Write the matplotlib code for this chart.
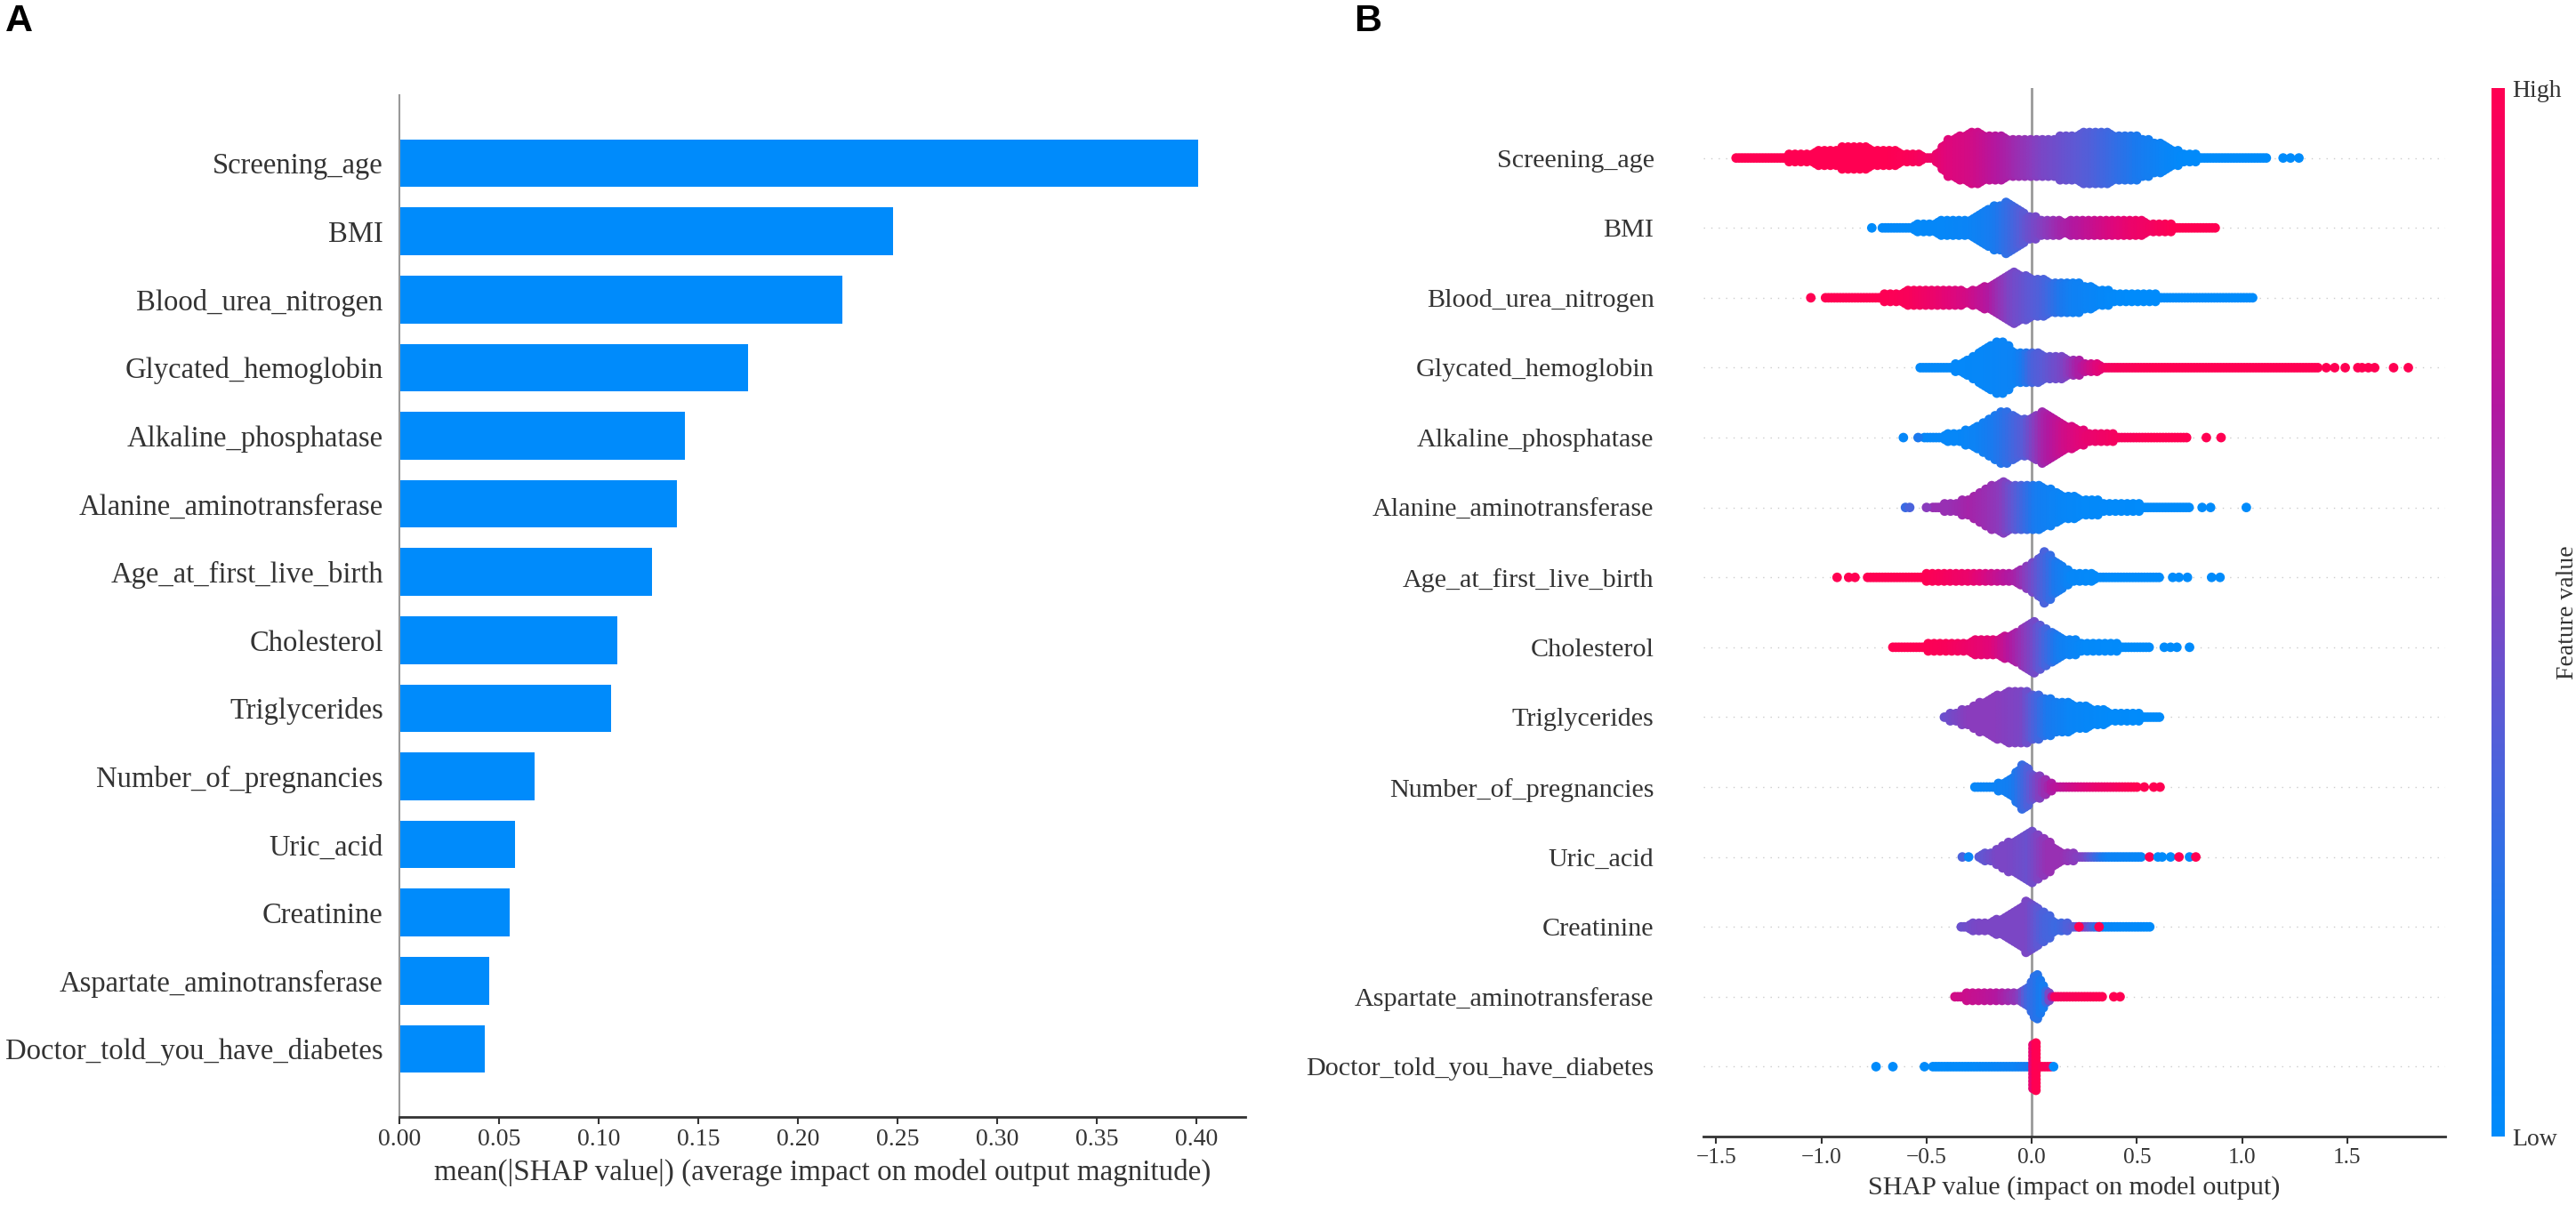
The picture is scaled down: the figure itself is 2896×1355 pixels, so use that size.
import numpy as np
import matplotlib
matplotlib.use("Agg")
import matplotlib.pyplot as plt
from matplotlib.colors import LinearSegmentedColormap
from matplotlib.cm import ScalarMappable

plt.rcParams['font.family'] = ['Liberation Serif', 'DejaVu Serif']

features = [
    "Screening_age", "BMI", "Blood_urea_nitrogen", "Glycated_hemoglobin",
    "Alkaline_phosphatase", "Alanine_aminotransferase", "Age_at_first_live_birth",
    "Cholesterol", "Triglycerides", "Number_of_pregnancies", "Uric_acid",
    "Creatinine", "Aspartate_aminotransferase", "Doctor_told_you_have_diabetes",
]
mean_abs_shap = [0.401, 0.248, 0.2225, 0.175, 0.1435, 0.1394, 0.1269,
                 0.1093, 0.1065, 0.068, 0.0582, 0.0552, 0.0452, 0.0430]

# beeswarm outline per feature:
# (SHAP value, spread 0..1 of the widest swarm, feature value 0=low 1=high)
screening_age_knots = [
    (-1.405, 0.00, 1.00), (-1.18, 0.04, 1.00), (-0.98, 0.29, 1.00), (-0.87, 0.40, 1.00),
    (-0.69, 0.32, 1.00), (-0.56, 0.11, 0.97), (-0.47, 0.04, 0.92), (-0.40, 0.68, 0.85),
    (-0.28, 1.00, 0.80), (-0.18, 0.82, 0.72), (-0.07, 0.75, 0.62), (0.06, 0.68, 0.50),
    (0.28, 1.00, 0.38), (0.48, 0.85, 0.22), (0.63, 0.50, 0.08), (0.72, 0.14, 0.02),
    (0.855, 0.00, 0.00), (1.12, 0.00, 0.00),
]
bmi_knots = [
    (-0.71, 0.00, 0.02), (-0.63, 0.00, 0.02), (-0.51, 0.14, 0.03), (-0.40, 0.29, 0.05),
    (-0.29, 0.32, 0.08), (-0.20, 0.75, 0.15), (-0.11, 1.00, 0.28), (-0.01, 0.40, 0.45),
    (0.15, 0.21, 0.65), (0.37, 0.32, 0.82), (0.48, 0.29, 0.90), (0.70, 0.04, 1.00),
    (0.81, 0.00, 1.00), (0.88, 0.00, 1.00),
]
bun_knots = [
    (-0.98, 0.00, 1.00), (-0.75, 0.00, 1.00), (-0.58, 0.25, 0.97), (-0.45, 0.29, 0.90),
    (-0.30, 0.21, 0.80), (-0.20, 0.45, 0.70), (-0.095, 1.00, 0.50), (0.06, 0.65, 0.35),
    (0.20, 0.57, 0.12), (0.37, 0.21, 0.03), (0.48, 0.11, 0.00), (0.80, 0.00, 0.00),
    (1.05, 0.00, 0.00),
]
hba1c_knots = [
    (-0.53, 0.00, 0.03), (-0.38, 0.04, 0.03), (-0.29, 0.32, 0.04), (-0.22, 0.75, 0.05),
    (-0.145, 1.00, 0.07), (-0.07, 0.57, 0.10), (0.01, 0.55, 0.35), (0.15, 0.40, 0.50),
    (0.26, 0.14, 0.75), (0.37, 0.04, 0.95), (0.60, 0.00, 1.00), (1.37, 0.00, 1.00),
]
alp_knots = [
    (-0.51, 0.00, 0.05), (-0.34, 0.14, 0.05), (-0.25, 0.47, 0.10), (-0.13, 1.00, 0.25),
    (-0.03, 0.65, 0.40), (0.06, 1.00, 0.65), (0.15, 0.50, 0.78), (0.26, 0.21, 0.88),
    (0.40, 0.07, 0.95), (0.59, 0.00, 1.00), (0.745, 0.00, 1.00),
]
alt_knots = [
    (-0.47, 0.00, 0.60), (-0.38, 0.14, 0.60), (-0.29, 0.32, 0.65), (-0.20, 0.75, 0.60),
    (-0.14, 1.00, 0.55), (-0.05, 0.80, 0.35), (0.04, 0.82, 0.15), (0.15, 0.47, 0.06),
    (0.26, 0.29, 0.03), (0.37, 0.14, 0.02), (0.59, 0.04, 0.00), (0.755, 0.00, 0.00),
]
first_birth_knots = [
    (-0.78, 0.04, 1.00), (-0.51, 0.07, 1.00), (-0.29, 0.11, 0.90), (-0.07, 0.21, 0.65),
    (0.02, 0.60, 0.45), (0.06, 1.00, 0.35), (0.12, 0.57, 0.20), (0.19, 0.11, 0.05),
    (0.40, 0.04, 0.00), (0.61, 0.00, 0.00),
]
cholesterol_knots = [
    (-0.66, 0.00, 1.00), (-0.55, 0.04, 1.00), (-0.40, 0.14, 0.97), (-0.18, 0.29, 0.85),
    (-0.07, 0.57, 0.65), (0.005, 1.00, 0.50), (0.08, 0.65, 0.30), (0.15, 0.32, 0.12),
    (0.26, 0.14, 0.03), (0.48, 0.04, 0.00), (0.57, 0.00, 0.00),
]
triglycerides_knots = [
    (-0.415, 0.04, 0.45), (-0.29, 0.32, 0.55), (-0.16, 0.90, 0.55), (-0.04, 1.00, 0.50),
    (0.08, 0.68, 0.20), (0.19, 0.50, 0.07), (0.37, 0.21, 0.02), (0.55, 0.04, 0.00),
    (0.61, 0.00, 0.00),
]
pregnancies_knots = [
    (-0.27, 0.00, 0.05), (-0.18, 0.04, 0.08), (-0.095, 0.32, 0.15), (-0.04, 1.00, 0.30),
    (0.01, 0.50, 0.45), (0.10, 0.07, 0.70), (0.30, 0.04, 0.88), (0.50, 0.00, 1.00),
]
uric_acid_knots = [
    (-0.25, 0.04, 0.40), (-0.16, 0.25, 0.50), (-0.10, 0.55, 0.50), (-0.01, 1.00, 0.45),
    (0.08, 0.57, 0.60), (0.15, 0.11, 0.60), (0.25, 0.04, 0.50), (0.37, 0.00, 0.10),
    (0.53, 0.00, 0.05),
]
creatinine_knots = [
    (-0.335, 0.04, 0.45), (-0.25, 0.11, 0.50), (-0.16, 0.25, 0.50), (-0.095, 0.57, 0.50),
    (-0.015, 1.00, 0.50), (0.06, 0.50, 0.35), (0.13, 0.11, 0.30), (0.26, 0.00, 0.50),
    (0.35, 0.00, 0.05), (0.57, 0.00, 0.00),
]
ast_knots = [
    (-0.365, 0.04, 0.80), (-0.25, 0.11, 0.75), (-0.16, 0.14, 0.70), (-0.06, 0.14, 0.55),
    (-0.01, 0.45, 0.30), (0.02, 1.00, 0.25), (0.06, 0.35, 0.15), (0.09, 0.07, 0.60),
    (0.11, 0.04, 0.95), (0.335, 0.04, 1.00),
]
diabetes_knots = [
    (-0.47, 0.00, 0.00), (-0.29, 0.00, 0.02), (-0.07, 0.04, 0.10), (-0.005, 0.07, 0.20),
    (0.008, 1.00, 1.00), (0.02, 1.00, 1.00), (0.03, 0.07, 1.00), (0.09, 0.00, 0.95),
]

swarm_knots = [
    screening_age_knots, bmi_knots, bun_knots, hba1c_knots, alp_knots, alt_knots,
    first_birth_knots, cholesterol_knots, triglycerides_knots, pregnancies_knots,
    uric_acid_knots, creatinine_knots, ast_knots, diabetes_knots,
]
# single dots outside the swarms: (SHAP value, feature value)
swarm_outliers = [
    [(1.195, 0.0), (1.23, 0.0), (1.27, 0.0)],
    [(-0.76, 0.0)],
    [(-1.05, 1.0)],
    [(1.40, 1.0), (1.44, 1.0), (1.49, 1.0), (1.55, 1.0), (1.57, 1.0), (1.60, 1.0),
     (1.63, 1.0), (1.72, 1.0), (1.79, 1.0)],
    [(-0.61, 0.05), (-0.54, 0.2), (0.83, 1.0), (0.90, 1.0)],
    [(-0.60, 0.3), (-0.58, 0.35), (-0.50, 0.55), (0.81, 0.0), (0.85, 0.0), (1.02, 0.0)],
    [(-0.925, 1.0), (-0.87, 1.0), (-0.84, 1.0), (0.67, 0.0), (0.70, 0.0), (0.74, 0.0),
     (0.855, 0.0), (0.895, 0.0)],
    [(0.63, 0.0), (0.66, 0.0), (0.69, 0.0), (0.75, 0.0)],
    [],
    [(0.535, 1.0), (0.58, 1.0), (0.61, 1.0)],
    [(-0.33, 0.35), (-0.30, 0.05), (0.56, 1.0), (0.60, 0.0), (0.62, 0.0), (0.66, 0.0),
     (0.70, 1.0), (0.75, 0.0), (0.78, 1.0)],
    [(0.225, 1.0), (0.32, 1.0)],
    [(0.39, 1.0), (0.42, 1.0)],
    [(-0.74, 0.0), (-0.66, 0.0), (-0.51, 0.0), (0.104, 0.0)],
]

# shap-like red/blue map
red_blue = LinearSegmentedColormap.from_list("red_blue", [
    (0.0, "#008bfb"), (0.2, "#1b79ee"), (0.4, "#5a5bd6"), (0.55, "#8a3cbd"),
    (0.7, "#b3179f"), (0.85, "#e0067a"), (1.0, "#ff0052"),
])

TXT = "#333333"
STEP = 0.014     # column spacing along x (SHAP units)
N_LAYERS = 7     # dot layers on each side at full spread
LAYER = 0.052    # layer spacing (rows)


def swarm_points(knots, row):
    kx = np.array([k[0] for k in knots])
    ks = np.array([k[1] for k in knots])
    kc = np.array([k[2] for k in knots])
    xs, ys, cs = [], [], []
    cols = np.arange(kx[0], kx[-1] + 1e-9, STEP)
    for i, x in enumerate(cols):
        n = int(round(np.interp(x, kx, ks) * N_LAYERS))
        c = np.interp(x, kx, kc)
        offs = np.arange(-n, n + 1) * LAYER
        if n > 0 and i % 2:
            offs = offs[:-1] + LAYER / 2
        xs.extend([x] * len(offs))
        ys.extend(row + offs)
        cs.extend([c] * len(offs))
    return xs, ys, cs


fig = plt.figure(figsize=(28.96, 13.55), dpi=100)

# ---- panel A: mean |SHAP| bars
ax1 = fig.add_axes([0.1550, 0.0731, 0.3284, 0.8479])
ypos = np.arange(len(features))[::-1]
ax1.barh(ypos, mean_abs_shap, height=0.7, color="#008bfb")
ax1.set_ylim(-1, len(features))
ax1.set_xlim(0, 0.4246)
ax1.set_yticks(ypos)
ax1.set_yticklabels(features, fontsize=23.5, color=TXT)
ax1.tick_params(axis="y", length=0, pad=13)
ax1.set_xticks(np.arange(0, 0.41, 0.05))
ax1.set_xticklabels([f"{v:.2f}" for v in np.arange(0, 0.41, 0.05)])
ax1.tick_params(axis="x", labelsize=20, labelcolor=TXT, length=6, width=1.5, color=TXT)
ax1.set_xlabel("mean(|SHAP value|) (average impact on model output magnitude)",
               fontsize=23.8, color=TXT, labelpad=6)
for s in ["top", "right"]:
    ax1.spines[s].set_visible(False)
ax1.spines["left"].set_color("#999999")
ax1.spines["left"].set_linewidth(1.5)
ax1.spines["bottom"].set_color(TXT)
ax1.spines["bottom"].set_linewidth(2)

# ---- panel B: beeswarm
ax2 = fig.add_axes([0.6613, 0.0568, 0.2879, 0.8701])
for r, (knots, outs) in enumerate(zip(swarm_knots, swarm_outliers)):
    row = len(features) - 1 - r
    ax2.axhline(row, color="#cccccc", lw=1, dashes=(1, 5), zorder=-1)
    xs, ys, cs = swarm_points(knots, row)
    xs += [o[0] for o in outs]
    ys += [row] * len(outs)
    cs += [o[1] for o in outs]
    ax2.scatter(xs, ys, c=cs, cmap=red_blue, vmin=0, vmax=1, s=60,
                linewidths=0, rasterized=True, zorder=3)
ax2.axvline(0, color="#999999", lw=2, zorder=1)
ax2.set_xlim(-1.56, 1.965)
ax2.set_ylim(-1, len(features))
ax2.set_yticks(ypos)
ax2.set_yticklabels(features, fontsize=21.7, color=TXT)
ax2.tick_params(axis="y", length=0, pad=40)
ax2.set_xticks([-1.5, -1.0, -0.5, 0.0, 0.5, 1.0, 1.5])
ax2.set_xticklabels(["\u22121.5", "\u22121.0", "\u22120.5", "0.0", "0.5", "1.0", "1.5"])
ax2.tick_params(axis="x", labelsize=18.3, labelcolor=TXT, length=6, width=1.5, color=TXT)
ax2.set_xlabel("SHAP value (impact on model output)", fontsize=21.7, color=TXT, labelpad=6)
for s in ["top", "right", "left"]:
    ax2.spines[s].set_visible(False)
ax2.spines["bottom"].set_color(TXT)
ax2.spines["bottom"].set_linewidth(2)

# colorbar
cax = fig.add_axes([0.9672, 0.0568, 0.0052, 0.8701])
cb = fig.colorbar(ScalarMappable(cmap=red_blue), cax=cax, ticks=[0, 1])
cb.set_ticklabels(["Low", "High"])
cb.ax.tick_params(labelsize=20, length=0, pad=6, labelcolor=TXT)
cb.outline.set_visible(False)
cb.set_label("Feature value", fontsize=20, color=TXT, labelpad=-4)

fig.text(0.002, 0.997, "A", fontsize=31, fontweight="bold", va="top", ha="left",
         family="Liberation Sans")
fig.text(0.5255, 0.997, "B", fontsize=31, fontweight="bold", va="top", ha="left",
         family="Liberation Sans")

fig.savefig("out.png", dpi=100)
